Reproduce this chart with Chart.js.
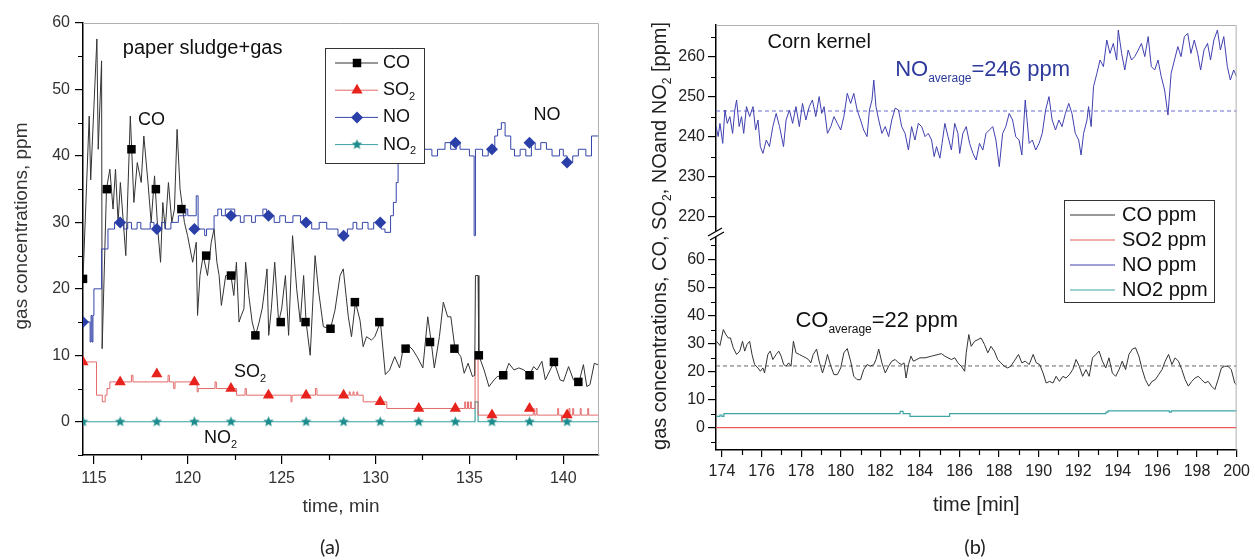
<!DOCTYPE html>
<html>
<head>
<meta charset="utf-8">
<script src="https://cdn.jsdelivr.net/npm/chart.js@4.4.1/dist/chart.umd.min.js"></script>
<style>
  body { margin: 0; background: #fff; width: 1255px; height: 560px; position: relative; overflow: hidden; }
  canvas { position: absolute; top: 0; }
  #chartA { left: 0; }
  #chartB { left: 625px; }
</style>
</head>
<body>
<canvas id="chartA" width="620" height="560"></canvas>
<canvas id="chartB" width="630" height="560"></canvas>
<script>
"use strict";

// ---------- (a) paper sludge + gas ----------
const aXTicks = [115, 120, 125, 130, 135, 140];
const aXMinor = [117.5, 122.5, 127.5, 132.5, 137.5];
const aYTicks = [0, 10, 20, 30, 40, 50, 60];
const aYMinor = [-5, 5, 15, 25, 35, 45, 55];

const aCoTime = [114.42, 114.75, 114.83, 115.16, 115.23, 115.41, 115.44, 115.67, 115.85, 116.02,
  116.15, 116.29, 116.41, 116.70, 116.94, 117.13, 117.31, 117.52, 117.66, 117.88,
  118.05, 118.23, 118.40, 118.55, 118.67, 118.80, 118.97, 119.15, 119.29, 119.43,
  119.59, 119.82, 119.99, 120.26, 120.45, 120.52, 120.65, 120.82, 121.05, 121.25,
  121.40, 121.55, 121.67, 121.79, 122.02, 122.30, 122.45, 122.59, 122.73, 122.85,
  122.99, 123.08, 123.25, 123.43, 123.61, 123.80, 123.96, 124.10, 124.22, 124.31,
  124.45, 124.63, 124.84, 125.00, 125.20, 125.37, 125.58, 125.80, 125.99, 126.17,
  126.30, 126.52, 126.78, 126.96, 127.22, 127.60, 127.84, 128.11, 128.28, 128.55,
  128.72, 128.93, 129.17, 129.34, 129.52, 129.78, 129.96, 130.26, 130.40, 130.52,
  130.75, 131.02, 131.28, 131.46, 131.72, 131.99, 132.25, 132.52, 132.78, 132.96,
  133.13, 133.40, 133.61, 133.84, 134.01, 134.23, 134.54, 134.72, 134.93, 135.16,
  135.28, 135.32, 135.46, 135.50, 135.78, 136.04, 136.31, 136.48, 136.87, 137.10,
  137.37, 137.63, 137.90, 138.19, 138.42, 138.60, 138.86, 139.04, 139.30, 139.51,
  139.83, 140.01, 140.28, 140.54, 140.84, 141.07, 141.25, 141.42, 141.65, 141.90];
const aCoValue = [21.5, 46, 36.4, 57.6, 41, 54.3, 11, 35, 38, 32,
  38, 30, 36, 25, 46, 33, 39, 36, 43, 36,
  30, 37, 29, 24, 33, 29, 36, 30, 32, 44,
  35, 30, 28, 24, 27, 16, 22, 25, 22, 27,
  29, 24, 22, 17.5, 22, 22, 19, 24, 15, 16,
  17, 24, 19, 15, 13, 15, 17, 20, 23, 13,
  17, 24, 15, 17, 22, 13, 28, 20, 15, 22,
  15, 10, 25, 19.8, 14.3, 14, 16.8, 22, 23, 15.8,
  12.8, 18, 15.3, 11.3, 12.8, 12.3, 12.8, 15, 10.8, 7.1,
  7.8, 9.8, 8.1, 10.8, 11.6, 10.8, 9.6, 8.1, 15.8, 12.1,
  8.1, 12.8, 18, 15.8, 15.8, 11, 9.8, 7.3, 8.8, 6.8,
  7, 22, 22, 10, 7.8, 5.3, 6.3, 6.8, 7, 8.8,
  7.8, 8.1, 7.8, 7, 8.3, 7.8, 9.1, 6.3, 7.8, 9,
  6.3, 6.1, 8.3, 6.3, 6, 8.6, 5.3, 5.6, 8.8, 8.5];

const aCoMarkTime = [114.42, 115.69, 117.0, 118.3, 119.66, 120.98, 122.3, 123.6, 124.95, 126.27,
  127.6, 128.9, 130.2, 131.6, 132.9, 134.2, 135.5, 136.8, 138.2, 139.5, 140.8];
const aCoMarkValue = [21.5, 35, 41, 35, 32, 25, 22, 13, 15, 15,
  14, 18, 15, 11, 12, 11, 10, 7, 7, 9, 6];

const aSo2Time = [114.42, 115.14, 115.45, 115.6, 115.7, 115.85, 117.0, 117.08, 118.95, 119.02,
  119.25, 119.32, 120.5, 120.56, 120.6, 121.45, 121.52, 122.6, 123.05, 123.12,
  125.5, 125.55, 126.8, 126.88, 128.6, 128.65, 128.8, 128.85, 129.0, 129.05,
  129.34, 130.6, 134.75, 134.8, 134.9, 134.95, 135.05, 135.1, 135.3, 135.46,
  138.4, 138.45, 138.55, 138.6, 139.7, 139.75, 139.9, 139.95, 140.3, 140.35,
  140.5, 140.55, 140.9, 140.95, 141.3, 141.35, 141.9];
const aSo2Value = [9, 4, 3, 4, 5, 6, 7, 6, 7, 6,
  5, 6, 4.5, 5, 5, 6, 5, 4, 5, 4,
  3, 4, 5, 4, 4.5, 4, 4.5, 4, 4.5, 4,
  3, 2, 3, 2, 3, 2, 3, 2, 9.5, 1,
  2, 1, 2, 1, 2, 1, 0, 1, 2, 1,
  2, 1, 2, 1, 2, 1, 1];

const aNoTime = [114.42, 114.8, 114.85, 114.9, 114.95, 115.0, 115.41, 115.75, 116.1, 116.6,
  116.8, 117.0, 117.3, 117.5, 118.0, 118.2, 118.6, 118.8, 119.1, 119.5,
  119.9, 120.0, 120.45, 120.55, 120.9, 121.0, 121.4, 121.6, 121.8, 122.0,
  122.5, 122.8, 123.0, 123.4, 123.6, 124.0, 124.2, 124.6, 124.9, 125.2,
  125.6, 126.0, 126.6, 127.0, 127.4, 128.0, 128.5, 128.8, 129.0, 129.3,
  129.6, 129.9, 130.3, 130.5, 130.8, 130.95, 131.1, 131.2, 131.3, 131.5,
  131.8, 132.6, 133.0, 133.3, 133.7, 134.0, 134.3, 134.5, 135.0, 135.25,
  135.32, 135.7, 136.0, 136.35, 136.5, 136.7, 136.9, 137.2, 137.4, 137.7,
  138.0, 138.3, 138.5, 138.8, 139.1, 139.4, 139.8, 140.0, 140.2, 140.5,
  140.8, 141.2, 141.5, 141.9];
const aNoValue = [15, 12, 16, 12, 16, 20, 26, 29, 30, 29,
  30, 29, 30, 29, 30, 29, 30, 29, 30, 31,
  32, 31, 34, 29, 28, 29, 31, 32, 31, 32,
  31, 30, 31, 30, 31, 32, 31, 30, 31, 30,
  31, 30, 29, 30, 29, 28, 29, 30, 29, 30,
  29, 30, 29, 28.5, 31, 33, 36, 39, 40, 39,
  40, 41, 40, 41, 42, 41, 42, 41, 40, 28,
  41, 40, 41, 43, 44, 45, 43, 41, 40, 41,
  40, 42, 41, 42, 41, 40, 41, 40, 39, 40,
  41, 40, 43, 43];

const aNo2Time = [114.42, 135.3, 135.46, 141.9];
const aNo2Value = [0, 3, 0, 0];

// shared marker times for SO2, NO and NO2
const aMarkTime = [114.42, 116.4, 118.35, 120.35, 122.3, 124.3, 126.3, 128.3, 130.25, 132.3,
  134.25, 136.2, 138.2, 140.2];
const aSo2Mark = [9, 6, 7.2, 6, 5, 4, 4, 4, 3, 2, 2, 1, 2, 1];
const aNoMark = [15, 30, 29, 29, 31, 31, 30, 28, 30, 40, 42, 41, 42, 39];
const aNo2Mark = [0, 0, 0, 0, 0, 0, 0, 0, 0, 0, 0, 0, 0, 0];

// ---------- (b) corn kernel ----------
const bXTicks = [174, 176, 178, 180, 182, 184, 186, 188, 190, 192, 194, 196, 198, 200];
const bXMinor = [175, 177, 179, 181, 183, 185, 187, 189, 191, 193, 195, 197, 199];
const bTopTicks = [220, 230, 240, 250, 260];
const bTopMinor = [225, 235, 245, 255, 265];
const bBotTicks = [0, 10, 20, 30, 40, 50, 60];
const bBotMinor = [-5, 5, 15, 25, 35, 45, 55, 65];

const bNoTime = [173.70, 173.81, 173.90, 174.04, 174.15, 174.27, 174.40, 174.54, 174.65, 174.74,
  174.87, 174.99, 175.10, 175.24, 175.40, 175.57, 175.70, 175.82, 175.94, 176.07,
  176.24, 176.40, 176.57, 176.74, 176.91, 177.11, 177.24, 177.41, 177.57, 177.74,
  177.91, 178.07, 178.24, 178.41, 178.57, 178.74, 178.91, 179.04, 179.16, 179.33,
  179.50, 179.66, 179.83, 180.00, 180.16, 180.33, 180.50, 180.66, 180.83, 181.00,
  181.16, 181.33, 181.45, 181.58, 181.67, 181.78, 181.92, 182.08, 182.25, 182.42,
  182.58, 182.75, 182.92, 183.08, 183.25, 183.42, 183.58, 183.75, 183.92, 184.09,
  184.26, 184.42, 184.59, 184.72, 184.84, 185.01, 185.12, 185.26, 185.42, 185.59,
  185.76, 185.92, 186.01, 186.17, 186.34, 186.51, 186.68, 186.84, 187.01, 187.18,
  187.34, 187.51, 187.68, 187.84, 188.01, 188.18, 188.34, 188.51, 188.68, 188.84,
  189.01, 189.15, 189.32, 189.52, 189.68, 189.85, 190.02, 190.18, 190.35, 190.52,
  190.68, 190.85, 191.02, 191.18, 191.35, 191.52, 191.68, 191.85, 192.02, 192.14,
  192.27, 192.44, 192.52, 192.65, 192.77, 192.94, 193.10, 193.27, 193.44, 193.60,
  193.77, 193.94, 194.02, 194.19, 194.35, 194.52, 194.69, 194.85, 195.03, 195.19,
  195.36, 195.53, 195.69, 195.86, 196.03, 196.19, 196.36, 196.53, 196.69, 196.86,
  197.03, 197.19, 197.36, 197.53, 197.69, 197.86, 198.03, 198.18, 198.35, 198.53,
  198.68, 198.85, 199.03, 199.18, 199.35, 199.53, 199.68, 199.85, 200.00];
const bNoValue = [242.6, 240.1, 243.4, 238.4, 246.75, 243.4, 245.1, 240.9, 246.75, 249.25,
  242.6, 245.1, 240.9, 247.6, 245.1, 247.6, 241.75, 244.25, 237.6, 235.9,
  239.25, 237.6, 242.6, 245.9, 242.6, 237.6, 244.25, 246.75, 243.4, 247.6,
  242.6, 248.4, 244.25, 247.6, 249.25, 245.1, 250.1, 245.9, 247.6, 240.9,
  242.6, 245.1, 243.4, 241.75, 245.1, 250.9, 248.4, 250.9, 246.75, 244.25,
  241.75, 240.1, 246.75, 249.25, 254.25, 247.6, 244.25, 240.9, 242.6, 240.1,
  244.25, 247.2, 246.75, 242.6, 240.9, 236.75, 242.6, 239.25, 243.4, 242.6,
  240.1, 240.9, 239.25, 235.1, 237.6, 234.7, 238.4, 243.4, 240.1, 236.75,
  243.4, 240.9, 235.9, 240.9, 242.6, 238.4, 235.9, 234.25, 238.4, 236.75,
  240.9, 241.75, 242.6, 239.25, 232.6, 240.9, 242.6, 245.9, 244.25, 240.1,
  239.25, 235.5, 249.25, 238.4, 239.25, 236.75, 238.4, 240.9, 246.75, 250.1,
  244.25, 241.75, 244.25, 242.6, 245.9, 248.4, 245.9, 240.9, 239.25, 235.5,
  240.9, 244.25, 247.6, 242.6, 252.6, 255.9, 259.25, 257.6, 264.25, 260.9,
  263.4, 259.25, 266.75, 260.9, 256.75, 261.75, 259.25, 260.1, 261.75, 263.4,
  260.1, 265.1, 257.6, 256.75, 259.25, 255.1, 251.75, 245.5, 255.9, 259.25,
  262.6, 260.1, 265.1, 265.9, 260.9, 264.25, 260.9, 256.75, 261.75, 263.4,
  259.25, 264.25, 266.75, 261.75, 265.1, 257.6, 254.25, 256.75, 255.1];

const bCoTime = [173.73, 173.90, 174.07, 174.20, 174.32, 174.43, 174.57, 174.74, 174.90, 175.04,
  175.15, 175.27, 175.40, 175.52, 175.65, 175.82, 175.94, 176.07, 176.15, 176.32,
  176.44, 176.57, 176.74, 176.87, 176.99, 177.12, 177.24, 177.37, 177.49, 177.61,
  177.74, 177.91, 178.07, 178.24, 178.37, 178.49, 178.61, 178.78, 178.91, 179.08,
  179.21, 179.33, 179.50, 179.66, 179.83, 180.00, 180.16, 180.33, 180.50, 180.66,
  180.83, 181.00, 181.16, 181.33, 181.50, 181.67, 181.78, 181.92, 182.08, 182.25,
  182.42, 182.58, 182.75, 182.92, 183.08, 183.20, 183.30, 183.42, 183.55, 183.67,
  183.84, 184.00, 184.26, 184.59, 184.92, 185.09, 185.26, 185.42, 185.59, 185.76,
  185.92, 186.09, 186.26, 186.34, 186.47, 186.59, 186.76, 186.93, 187.09, 187.26,
  187.43, 187.59, 187.76, 187.93, 188.09, 188.26, 188.43, 188.59, 188.76, 188.98,
  189.15, 189.32, 189.52, 189.72, 189.88, 190.05, 190.22, 190.38, 190.55, 190.72,
  190.88, 191.05, 191.22, 191.38, 191.55, 191.72, 191.89, 192.05, 192.22, 192.39,
  192.55, 192.72, 192.89, 193.05, 193.22, 193.39, 193.55, 193.72, 193.89, 194.06,
  194.22, 194.39, 194.56, 194.73, 194.89, 195.06, 195.23, 195.39, 195.56, 195.73,
  195.89, 196.06, 196.23, 196.39, 196.56, 196.73, 196.89, 197.06, 197.23, 197.40,
  197.56, 197.73, 197.90, 198.06, 198.23, 198.40, 198.56, 198.73, 198.90, 199.06,
  199.23, 199.40, 199.56, 199.73, 199.90, 200.00];
const bCoValue = [30.8, 29.3, 35.0, 33.2, 32.0, 32.0, 28.5, 26.1, 27.3, 30.8,
  27.3, 29.7, 30.8, 26.1, 22.5, 21.3, 20.1, 21.3, 19.5, 26.1,
  27.3, 24.3, 26.1, 27.3, 25.5, 22.5, 21.9, 23.1, 21.9, 30.8,
  26.7, 26.1, 25.5, 24.9, 24.3, 23.1, 26.1, 28.0, 23.7, 19.5,
  22.5, 26.1, 21.9, 18.9, 18.9, 21.3, 26.7, 28.2, 23.7, 18.3,
  17.1, 17.1, 20.7, 22.5, 21.9, 22.5, 24.3, 28.0, 23.1, 19.5,
  21.9, 23.7, 24.3, 23.1, 22.5, 23.1, 17.7, 22.5, 25.5, 23.7,
  24.3, 24.9, 24.9, 25.5, 26.1, 26.4, 25.5, 24.9, 24.3, 24.9,
  23.1, 21.9, 20.1, 26.7, 33.2, 29.0, 30.8, 31.4, 32.0, 29.7,
  26.7, 29.0, 27.3, 24.3, 23.1, 21.9, 21.3, 21.9, 23.7, 26.1,
  23.1, 23.7, 22.5, 26.1, 23.1, 22.5, 19.5, 15.9, 16.5, 15.9,
  18.3, 16.5, 18.3, 17.7, 18.9, 20.7, 24.3, 21.9, 18.3, 20.7,
  18.3, 24.9, 26.1, 27.3, 23.7, 21.3, 24.9, 19.5, 18.3, 20.7,
  23.7, 20.7, 26.1, 28.0, 28.5, 25.5, 20.7, 17.1, 14.8, 16.5,
  17.1, 18.9, 20.7, 23.7, 26.1, 22.5, 24.9, 23.7, 20.7, 17.1,
  14.8, 16.5, 17.7, 18.3, 17.1, 15.9, 16.5, 14.8, 13.6, 17.1,
  21.3, 21.9, 21.9, 20.7, 15.9, 15.3];

const bSo2Time = [173.7, 200];
const bSo2Value = [0, 0];
const bNo2Time = [173.7, 173.9, 174.0, 174.1, 183.0, 183.15, 183.5, 185.5, 193.4, 193.5, 196.6, 196.7, 200];
const bNo2Value = [4, 4.5, 4, 5, 5.8, 5, 4, 5, 5.5, 6, 5.5, 6, 6];

const bAvgTime = [173.7, 200];
const bNoAverage = 246.5;
const bCoAverage = 22;

// ---------- helpers ----------
const FONT = "'Liberation Sans', Arial, sans-serif";
const pts = (xs, ys) => xs.map((x, i) => ({ x, y: ys[i] }));

function starImage(color, r) {
  const c = document.createElement("canvas");
  const s = Math.ceil(r * 2 + 2);
  c.width = c.height = s;
  const g = c.getContext("2d");
  g.fillStyle = color;
  g.beginPath();
  for (let i = 0; i < 10; i++) {
    const rr = i % 2 ? r * 0.45 : r;
    const a = -Math.PI / 2 + i * Math.PI / 5;
    g.lineTo(s / 2 + rr * Math.cos(a), s / 2 + rr * Math.sin(a));
  }
  g.closePath();
  g.fill();
  return c;
}
const tealStar = starImage("#1d8c8c", 5.5);

function drawRich(ctx, parts, x, y, size, color, align, subScale) {
  const sub = Math.round(size * (subScale || 0.6));
  ctx.save();
  ctx.fillStyle = color;
  ctx.textBaseline = "middle";
  ctx.textAlign = "left";
  let w = 0;
  parts.forEach(p => {
    ctx.font = `${p.sub ? sub : size}px ${FONT}`;
    w += ctx.measureText(p.t).width;
  });
  let cx = align === "center" ? x - w / 2 : x;
  parts.forEach(p => {
    ctx.font = `${p.sub ? sub : size}px ${FONT}`;
    ctx.fillText(p.t, cx, p.sub ? y + size * 0.38 : y);
    cx += ctx.measureText(p.t).width;
  });
  ctx.restore();
}

function drawMarker(ctx, style, color, x, y, r) {
  ctx.save();
  ctx.fillStyle = color;
  ctx.beginPath();
  if (style === "rect") {
    const h = r * Math.SQRT1_2;
    ctx.rect(x - h, y - h, 2 * h, 2 * h);
  } else if (style === "triangle") {
    ctx.moveTo(x, y - r);
    ctx.lineTo(x + r * 0.866, y + r * 0.5);
    ctx.lineTo(x - r * 0.866, y + r * 0.5);
  } else if (style === "rectRot") {
    ctx.moveTo(x, y - r); ctx.lineTo(x + r, y); ctx.lineTo(x, y + r); ctx.lineTo(x - r, y);
  }
  ctx.closePath();
  if (style === "star") {
    ctx.drawImage(tealStar, x - tealStar.width / 2, y - tealStar.height / 2);
  } else {
    ctx.fill();
  }
  ctx.restore();
}

function minorX(ctx, scale, values, len) {
  ctx.beginPath();
  values.forEach(v => {
    const p = Math.round(scale.getPixelForValue(v)) + 0.5;
    ctx.moveTo(p, scale.top);
    ctx.lineTo(p, scale.top + len);
  });
  ctx.stroke();
}

function minorY(ctx, scale, values, len) {
  ctx.beginPath();
  values.forEach(v => {
    const p = Math.round(scale.getPixelForValue(v)) + 0.5;
    ctx.moveTo(scale.right, p);
    ctx.lineTo(scale.right - len, p);
  });
  ctx.stroke();
}

function frame(ctx, area) {
  ctx.save();
  ctx.strokeStyle = "#b0b0b0";
  ctx.lineWidth = 1;
  ctx.beginPath();
  ctx.moveTo(area.left, area.top + 0.5);
  ctx.lineTo(area.right - 0.5, area.top + 0.5);
  ctx.lineTo(area.right - 0.5, area.bottom);
  ctx.stroke();
  ctx.restore();
}

function axisStyle(size, color, tickLen, pad) {
  return {
    border: { color: "#000", width: 1.5 },
    grid: { drawOnChartArea: false, color: "#000", tickLength: tickLen, lineWidth: 1.2 },
    ticks: { font: { family: FONT, size }, color, padding: pad, maxRotation: 0, autoSkip: false }
  };
}

const fixTicks = list => scale => { scale.ticks = list.map(v => ({ value: v })); };

// ---------- chart (a) ----------
const aLegend = [
  { label: [{ t: "CO" }], line: "#333", mark: "#000", style: "rect", r: 6 },
  { label: [{ t: "SO" }, { t: "2", sub: true }], line: "#e46a6a", mark: "#e8231e", style: "triangle", r: 6.5 },
  { label: [{ t: "NO" }], line: "#3545a8", mark: "#2a40a8", style: "rectRot", r: 6 },
  { label: [{ t: "NO" }, { t: "2", sub: true }], line: "#3aa0a0", mark: "#1d8c8c", style: "star", r: 6 }
];

const decorA = {
  id: "decorA",
  afterDatasetsDraw(chart) {
    const ctx = chart.ctx;
    ctx.save();
    ctx.fillStyle = "#fff";
    ctx.fillRect(325.5, 48.5, 99, 115);
    ctx.strokeStyle = "#333";
    ctx.lineWidth = 1;
    ctx.strokeRect(325.5, 48.5, 99, 115);
    aLegend.forEach((e, i) => {
      const y = 63 + i * 27.2;
      ctx.strokeStyle = e.line;
      ctx.beginPath();
      ctx.moveTo(335, y);
      ctx.lineTo(378, y);
      ctx.stroke();
      drawMarker(ctx, e.style, e.mark, 357, y, e.r);
      drawRich(ctx, e.label, 383, y, 18, "#111");
    });
    ctx.restore();
  },
  afterDraw(chart) {
    const ctx = chart.ctx;
    const { x, y } = chart.scales;
    const area = chart.chartArea;
    frame(ctx, area);
    ctx.save();
    ctx.strokeStyle = "#000";
    ctx.lineWidth = 1.2;
    minorX(ctx, x, aXMinor, 5);
    minorY(ctx, y, aYMinor, 5);
    ctx.restore();

    const px = v => x.getPixelForValue(v);
    const py = v => y.getPixelForValue(v);
    drawRich(ctx, [{ t: "paper sludge+gas" }], px(116.54), py(56.2), 20, "#111");
    drawRich(ctx, [{ t: "CO" }], px(118.07), py(45.4), 18, "#111", "center");
    drawRich(ctx, [{ t: "NO" }], px(139.13), py(46.2), 18, "#111", "center");
    drawRich(ctx, [{ t: "SO" }, { t: "2", sub: true }], px(122.46), py(7.5), 18, "#111");
    drawRich(ctx, [{ t: "NO" }, { t: "2", sub: true }], px(120.87), py(-2.4), 18, "#111");

    ctx.save();
    ctx.translate(22, 226);
    ctx.rotate(-Math.PI / 2);
    drawRich(ctx, [{ t: "gas concentrations, ppm" }], 0, 0, 19, "#333", "center");
    ctx.restore();
    drawRich(ctx, [{ t: "time, min" }], (area.left + area.right) / 2, 507, 19, "#333", "center");
    ctx.save();
    ctx.font = `20px Lato, 'Open Sans', sans-serif`;
    ctx.fillStyle = "#222";
    ctx.textAlign = "center";
    ctx.textBaseline = "middle";
    ctx.fillText("(a)", 330, 548);
    ctx.restore();
  }
};

new Chart(document.getElementById("chartA"), {
  type: "line",
  data: {
    datasets: [
      { data: pts(aCoMarkTime, aCoMarkValue), showLine: false, pointStyle: "rect", pointRadius: 6,
        backgroundColor: "#000", borderWidth: 0, order: 1 },
      { data: pts(aMarkTime, aSo2Mark), showLine: false, pointStyle: "triangle", pointRadius: 6.5,
        backgroundColor: "#e8231e", borderWidth: 0, order: 1 },
      { data: pts(aMarkTime, aNoMark), showLine: false, pointStyle: "rectRot", pointRadius: 6,
        backgroundColor: "#2a40a8", borderWidth: 0, order: 1 },
      { data: pts(aMarkTime, aNo2Mark), showLine: false, pointStyle: tealStar, pointRadius: 6,
        order: 1 },
      { data: pts(aCoTime, aCoValue), borderColor: "#333", borderWidth: 1, pointRadius: 0, order: 3 },
      { data: pts(aSo2Time, aSo2Value), borderColor: "#e46a6a", borderWidth: 1, pointRadius: 0,
        stepped: true, order: 4 },
      { data: pts(aNoTime, aNoValue), borderColor: "#3545a8", borderWidth: 1, pointRadius: 0,
        stepped: true, order: 2 },
      { data: pts(aNo2Time, aNo2Value), borderColor: "#3aa0a0", borderWidth: 1.2, pointRadius: 0,
        stepped: true, order: 5 }
    ]
  },
  options: {
    responsive: false,
    animation: false,
    devicePixelRatio: 1,
    layout: { padding: { left: 0, right: 21, top: 23, bottom: 0 } },
    plugins: { legend: { display: false }, tooltip: { enabled: false } },
    scales: {
      x: Object.assign(axisStyle(16, "#333", 9, 5), {
        type: "linear", position: "bottom", min: 114.42, max: 141.9,
        afterBuildTicks: fixTicks(aXTicks),
        afterFit: s => { s.height = 105; }
      }),
      y: Object.assign(axisStyle(16, "#333", 8, 5), {
        type: "linear", position: "left", min: -5, max: 60,
        afterBuildTicks: fixTicks(aYTicks),
        afterFit: s => { s.width = 83; }
      })
    }
  },
  plugins: [decorA]
});

// ---------- chart (b) ----------
const bLegend = [
  { label: "CO ppm", color: "#333" },
  { label: "SO2 ppm", color: "#e85a5a" },
  { label: "NO ppm", color: "#4040b0" },
  { label: "NO2 ppm", color: "#3fa5a5" }
];

const decorB = {
  id: "decorB",
  afterDatasetsDraw(chart) {
    const ctx = chart.ctx;
    ctx.save();
    ctx.fillStyle = "#fff";
    ctx.fillRect(439.5, 200.5, 150, 102);
    ctx.strokeStyle = "#333";
    ctx.lineWidth = 1;
    ctx.strokeRect(439.5, 200.5, 150, 102);
    bLegend.forEach((e, i) => {
      const y = 215 + i * 25;
      ctx.strokeStyle = e.color;
      ctx.beginPath();
      ctx.moveTo(445, y);
      ctx.lineTo(490, y);
      ctx.stroke();
      drawRich(ctx, [{ t: e.label }], 497, y, 20, "#111");
    });
    ctx.restore();
  },
  afterDraw(chart) {
    const ctx = chart.ctx;
    const { x, yTop, yBot } = chart.scales;
    const area = chart.chartArea;
    frame(ctx, area);
    ctx.save();
    ctx.strokeStyle = "#000";
    ctx.lineWidth = 1.2;
    minorX(ctx, x, bXMinor, 5);
    minorY(ctx, yTop, bTopMinor, 5);
    minorY(ctx, yBot, bBotMinor, 5);

    // axis break marks
    const yb = yTop.bottom;
    const xb = area.left;
    ctx.fillStyle = "#fff";
    ctx.fillRect(xb - 2, yb - 3, 4, 6);
    ctx.lineWidth = 1.3;
    ctx.beginPath();
    ctx.moveTo(xb - 8, yb + 2); ctx.lineTo(xb + 6, yb - 6);
    ctx.moveTo(xb - 6, yb + 6); ctx.lineTo(xb + 8, yb - 2);
    ctx.stroke();
    ctx.restore();

    const px = v => x.getPixelForValue(v);
    drawRich(ctx, [{ t: "Corn kernel" }], px(176.3), yTop.getPixelForValue(263.75), 20, "#111");
    drawRich(ctx, [{ t: "NO" }, { t: "average", sub: true }, { t: "=246 ppm" }],
      px(182.75), yTop.getPixelForValue(256.75), 22, "#2d3a9c", "left", 0.55);
    drawRich(ctx, [{ t: "CO" }, { t: "average", sub: true }, { t: "=22 ppm" }],
      px(177.71), yBot.getPixelForValue(37.9), 22, "#111", "left", 0.55);

    ctx.save();
    ctx.translate(35, 236);
    ctx.rotate(-Math.PI / 2);
    drawRich(ctx, [{ t: "gas concentrations, CO, SO" }, { t: "2", sub: true }, { t: ", NOand NO" },
      { t: "2", sub: true }, { t: " [ppm]" }], 0, 0, 20, "#222", "center");
    ctx.restore();
    drawRich(ctx, [{ t: "time [min]" }], (area.left + area.right) / 2, 505, 20, "#222", "center");
    ctx.save();
    ctx.font = `20px Lato, 'Open Sans', sans-serif`;
    ctx.fillStyle = "#222";
    ctx.textAlign = "center";
    ctx.textBaseline = "middle";
    ctx.fillText("(b)", 350, 548);
    ctx.restore();
  }
};

new Chart(document.getElementById("chartB"), {
  type: "line",
  data: {
    datasets: [
      { data: pts(bNoTime, bNoValue), yAxisID: "yTop", borderColor: "#4040b0", borderWidth: 1,
        pointRadius: 0, order: 2 },
      { data: pts(bAvgTime, bAvgTime.map(() => bNoAverage)), yAxisID: "yTop", borderColor: "#6a6ad0",
        borderWidth: 1, borderDash: [4, 3], pointRadius: 0, order: 3 },
      { data: pts(bCoTime, bCoValue), yAxisID: "yBot", borderColor: "#333", borderWidth: 1,
        pointRadius: 0, order: 1 },
      { data: pts(bAvgTime, bAvgTime.map(() => bCoAverage)), yAxisID: "yBot", borderColor: "#666",
        borderWidth: 1, borderDash: [4, 3], pointRadius: 0, order: 4 },
      { data: pts(bSo2Time, bSo2Value), yAxisID: "yBot", borderColor: "#e85a5a", borderWidth: 1.3,
        pointRadius: 0, order: 5 },
      { data: pts(bNo2Time, bNo2Value), yAxisID: "yBot", borderColor: "#3fa5a5", borderWidth: 1.2,
        pointRadius: 0, stepped: true, order: 6 }
    ]
  },
  options: {
    responsive: false,
    animation: false,
    devicePixelRatio: 1,
    layout: { padding: { left: 0, right: 14, top: 25, bottom: 0 } },
    plugins: { legend: { display: false }, tooltip: { enabled: false } },
    scales: {
      x: Object.assign(axisStyle(16, "#222", 7, 5), {
        type: "linear", position: "bottom", min: 173.7, max: 200,
        afterBuildTicks: fixTicks(bXTicks),
        afterFit: s => { s.height = 110; }
      }),
      yBot: Object.assign(axisStyle(16, "#222", 8, 3), {
        type: "linear", position: "left", stack: "conc", stackWeight: 216,
        min: -8, max: 69.1,
        afterBuildTicks: fixTicks(bBotTicks),
        afterFit: s => { s.width = 91; }
      }),
      yTop: Object.assign(axisStyle(16, "#222", 8, 3), {
        type: "linear", position: "left", stack: "conc", stackWeight: 209,
        min: 215.75, max: 268,
        afterBuildTicks: fixTicks(bTopTicks),
        afterFit: s => { s.width = 91; }
      })
    }
  },
  plugins: [decorB]
});
</script>
</body>
</html>
